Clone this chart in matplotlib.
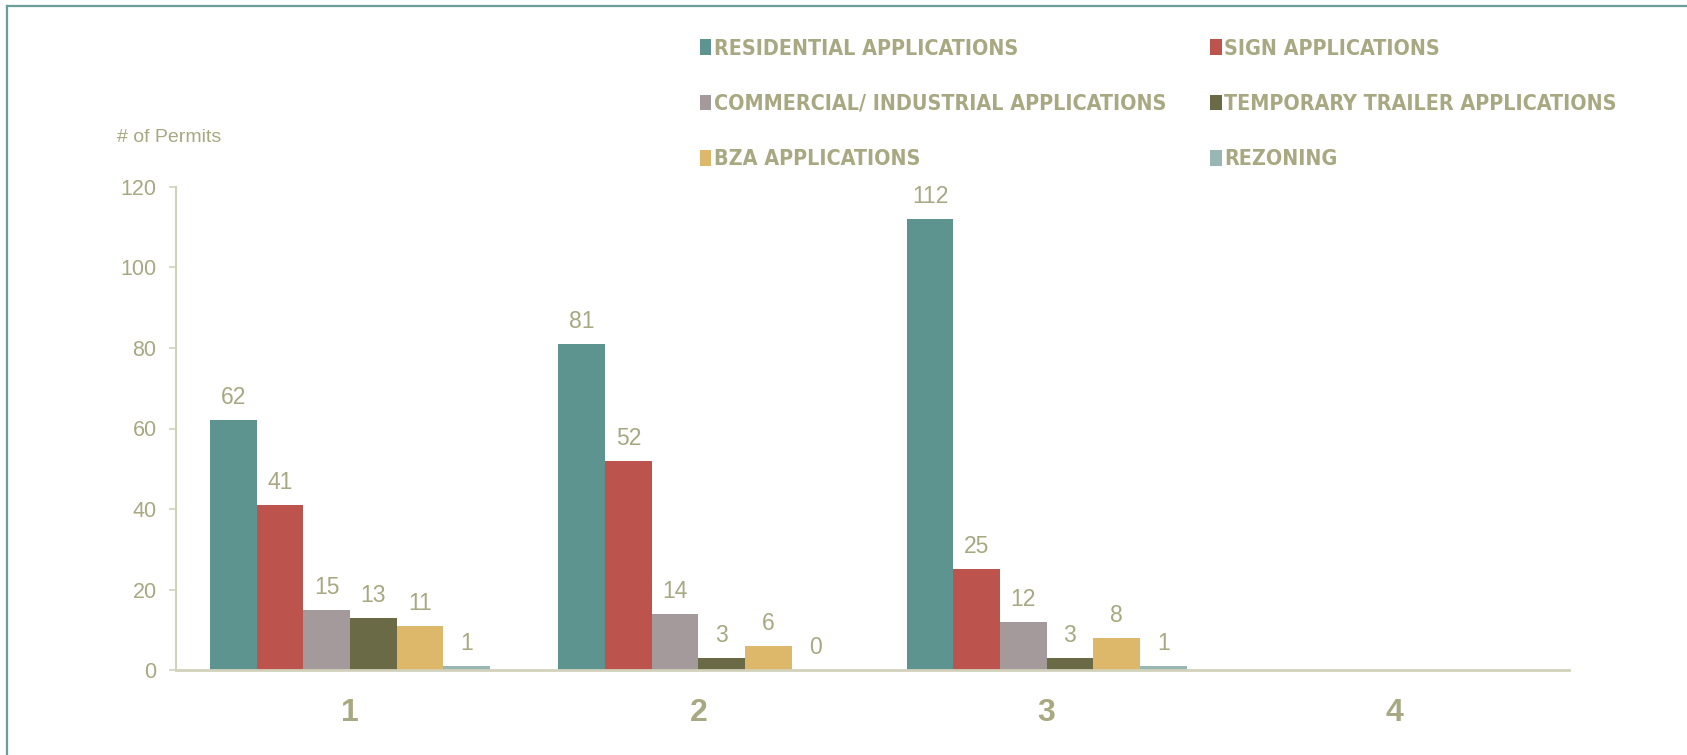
import numpy as np
import matplotlib.pyplot as plt
from matplotlib.lines import Line2D

quarters = ["1", "2", "3", "4"]
series_names = [
    "RESIDENTIAL APPLICATIONS",
    "SIGN APPLICATIONS",
    "COMMERCIAL/ INDUSTRIAL APPLICATIONS",
    "TEMPORARY TRAILER APPLICATIONS",
    "BZA APPLICATIONS",
    "REZONING",
]
residential = [62, 81, 112, np.nan]
sign = [41, 52, 25, np.nan]
commercial = [15, 14, 12, np.nan]
trailer = [13, 3, 3, np.nan]
bza = [11, 6, 8, np.nan]
rezoning = [1, 0, 1, np.nan]
y_ticks = [0, 20, 40, 60, 80, 100, 120]

series = [residential, sign, commercial, trailer, bza, rezoning]
colors = ["#5E9490", "#BC544D", "#A59A9B", "#6A6A47", "#DDB76A", "#98B6B4"]
text_color = "#A8A882"
axis_color = "#D2D2BC"

plt.rcParams["font.family"] = ["Liberation Sans", "DejaVu Sans"]

fig = plt.figure(figsize=(16.87, 7.55), dpi=100)
ax = fig.add_axes([176 / 1687, 85 / 755, 1393 / 1687, 483 / 755])

x = np.arange(1, len(quarters) + 1)
width = 0.134
bars = []
for i, (vals, col) in enumerate(zip(series, colors)):
    pos = x + (i - 2.5) * width
    b = ax.bar(pos, vals, width, color=col, linewidth=0, label=series_names[i])
    bars.append(b)
    for px, v in zip(pos, vals):
        if np.isnan(v):
            continue
        ax.annotate(f"{int(v)}", (px, v), xytext=(0, 8), textcoords="offset points",
                    ha="center", va="bottom", fontsize=16.5, color=text_color)

ax.set_xlim(0.5, 4.5)
ax.set_ylim(0, 120)
ax.set_yticks(y_ticks)
ax.set_xticks(x)
ax.set_xticklabels(quarters, fontsize=23, fontweight="bold", color=text_color)
ax.tick_params(axis="x", length=0, pad=20)
ax.tick_params(axis="y", length=5, width=1.2, color=axis_color, pad=9,
               labelsize=15.5, labelcolor=text_color)
for s in ["top", "right"]:
    ax.spines[s].set_visible(False)
ax.spines["left"].set_color(axis_color)
ax.spines["left"].set_linewidth(1.5)
ax.spines["bottom"].set_color(axis_color)
ax.spines["bottom"].set_linewidth(2)

fig.text(117 / 1687, 1 - 138 / 755, "# of Permits", fontsize=14, color=text_color,
         ha="left", va="center")

order = [0, 2, 4, 1, 3, 5]
leg = fig.legend([bars[i] for i in order], [series_names[i] for i in order],
                 ncol=2, loc="upper left", bbox_to_anchor=(691 / 1687, 1 - 30 / 755),
                 frameon=False, handlelength=0.55, handleheight=0.75, handletextpad=0.12,
                 columnspacing=2.05, labelspacing=1.65, borderaxespad=0,
                 prop={"family": "DejaVu Sans", "stretch": "condensed",
                       "weight": "bold", "size": 15.4})
for t in leg.get_texts():
    t.set_color(text_color)

border = "#6A9E99"
fig.add_artist(Line2D([7 / 1687, 1], [1 - 6 / 755, 1 - 6 / 755], color=border, lw=1.6,
                      transform=fig.transFigure))
fig.add_artist(Line2D([7 / 1687, 7 / 1687], [0, 1 - 6 / 755], color=border, lw=1.6,
                      transform=fig.transFigure))

fig.savefig("out.png", dpi=100)
